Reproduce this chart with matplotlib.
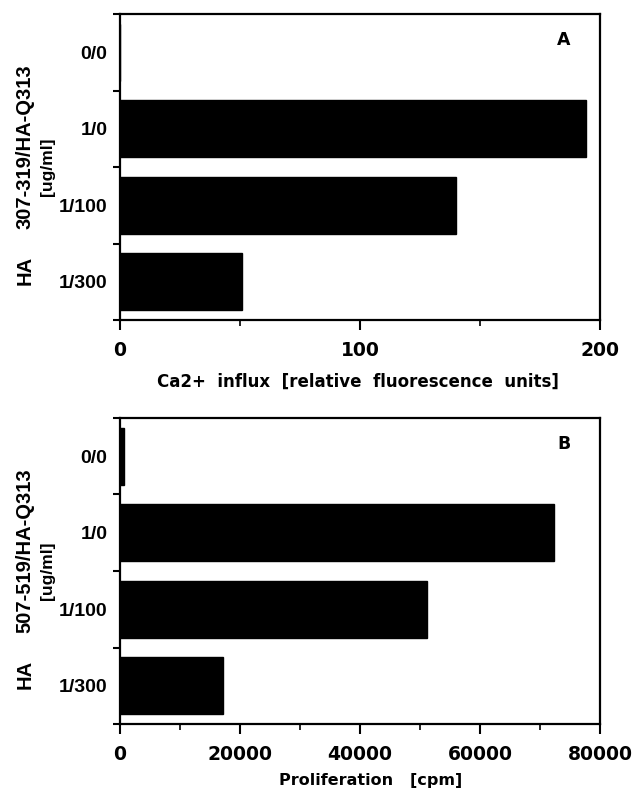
import matplotlib
matplotlib.use('Agg')
import matplotlib.pyplot as plt
import numpy as np

# categorias (ordem de cima para baixo)
categorias = ['0/0', '1/0', '1/100', '1/300']

# painel A: influxo de Ca2+
ca_influx = [0, 194, 140, 51]
# painel B: proliferação
proliferacao = [700, 72300, 51200, 17100]

ticks_a = [0, 100, 200]
ticks_b = [0, 20000, 40000, 60000, 80000]

W, H = 636, 802
fig = plt.figure(figsize=(W / 100, H / 100), dpi=100)

cat_font = dict(family='Liberation Sans', weight='bold', size=14)
num_font = dict(family='DejaVu Sans', weight='bold', size=13.5)
ylab_font = dict(family='Liberation Sans', weight='bold', size=14.5)


def painel(top, valores, xmax, xticks, xminor, xlabel, lsize, lpad, lx, letra, peptideo):
    # caixa do eixo em pixels -> fração da figura
    left, right, bottom = 120, 600, top + 306
    ax = fig.add_axes([left / W, 1 - bottom / H, (right - left) / W, 306 / H])
    y = np.arange(len(categorias))
    ax.barh(y, valores, height=0.75, color='black', edgecolor='black')
    ax.set_xlim(0, xmax)
    ax.set_ylim(len(categorias) - 0.5, -0.5)

    ax.set_yticks(y)
    ax.set_yticklabels(categorias, fontdict=cat_font)
    ax.set_yticks(np.arange(-0.5, len(categorias)), minor=True)
    ax.tick_params(axis='y', which='major', length=0, pad=9)
    ax.tick_params(axis='y', which='minor', length=5, width=1.5, direction='out')

    ax.set_xticks(xticks)
    ax.set_xticklabels([str(t) for t in xticks], fontdict=num_font)
    ax.set_xticks(xminor, minor=True)
    ax.tick_params(axis='x', which='major', length=7, width=1.5, direction='out', pad=8)
    ax.tick_params(axis='x', which='minor', length=4, width=1.2, direction='out')
    ax.set_xlabel(xlabel, family='DejaVu Sans', weight='bold', size=lsize, labelpad=lpad)
    ax.xaxis.label.set_x(lx)

    for s in ax.spines.values():
        s.set_linewidth(1.6)

    ax.text(0.925, 0.915, letra, transform=ax.transAxes, ha='center', va='center',
            fontsize=12.5, fontweight='bold', family='DejaVu Sans')

    # rótulo do eixo y em três partes
    fig.text(25 / W, 1 - (top + 256) / H, 'HA', rotation=90, ha='center', va='center', **ylab_font)
    fig.text(25 / W, 1 - (top + 133) / H, peptideo, rotation=90, ha='center', va='center', **ylab_font)
    fig.text(47 / W, 1 - (top + 153) / H, '[ug/ml]', rotation=90, ha='center', va='center',
             family='Liberation Sans', weight='bold', size=12.5)
    return ax


painel(14, ca_influx, 200, ticks_a, [50, 150],
       'Ca2+  influx  [relative  fluorescence  units]', 12, 9.5, 0.495, 'A', '307-319/HA-Q313')
painel(418, proliferacao, 80000, ticks_b, [10000, 30000, 50000, 70000],
       'Proliferation   [cpm]', 11.5, 6.5, 0.523, 'B', '507-519/HA-Q313')

fig.savefig('out.png', dpi=100)
